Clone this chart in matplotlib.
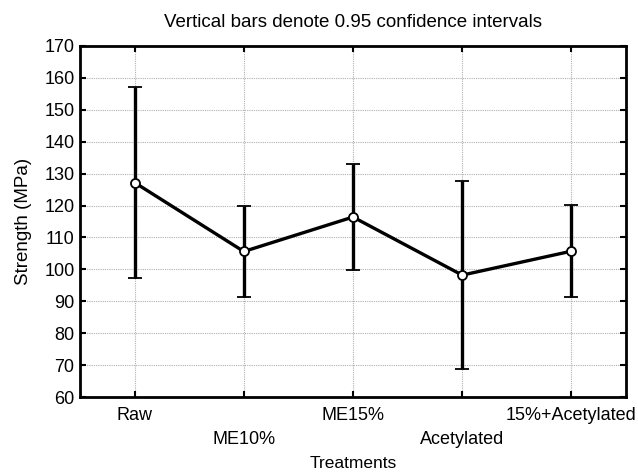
import matplotlib
matplotlib.use("Agg")
import matplotlib.pyplot as plt

plt.rcParams['font.family'] = ['Liberation Sans', 'DejaVu Sans']

treatments = ["Raw", "ME10%", "ME15%", "Acetylated", "15%+Acetylated"]
strength = [127.2, 105.6, 116.4, 98.2, 105.7]
ci_half = [29.8, 14.3, 16.7, 29.4, 14.4]  # half-width of 0.95 CI

fig = plt.figure(figsize=(6.38, 4.74), dpi=100)
ax = fig.add_axes([80 / 638, 1 - 397 / 474, 546 / 638, 351 / 474])

x = list(range(1, len(treatments) + 1))
ax.errorbar(x, strength, yerr=ci_half, color='black', lw=2.4, elinewidth=2.4,
            capsize=5, capthick=2.4, marker='o', markersize=6.5,
            markerfacecolor='white', markeredgecolor='black', markeredgewidth=1.3,
            zorder=3)

ax.set_xlim(0.5, 5.5)
ax.set_ylim(60, 170)
ax.set_yticks(range(60, 171, 10))
ax.set_xticks(x)
# stagger the category labels on two rows
labels = [t if i % 2 == 0 else "\n" + t for i, t in enumerate(treatments)]
ax.set_xticklabels(labels)
for lab in ax.get_xticklabels():
    lab.set_linespacing(1.55)

ax.grid(True, color='#b0b0b0', linestyle=(0, (1, 1)), lw=0.8)
ax.set_axisbelow(True)
for s in ax.spines.values():
    s.set_linewidth(2)
ax.tick_params(direction='in', top=True, right=True, length=4, width=1.5,
               labelsize=13, pad=4)
ax.tick_params(axis='x', pad=7)

ax.set_title("Vertical bars denote 0.95 confidence intervals", fontsize=13.5, pad=14)
ax.set_ylabel("Strength (MPa)", fontsize=13.5, labelpad=9)
ax.set_xlabel("Treatments", fontsize=12.5, labelpad=6)

fig.savefig("out.png", dpi=100)
